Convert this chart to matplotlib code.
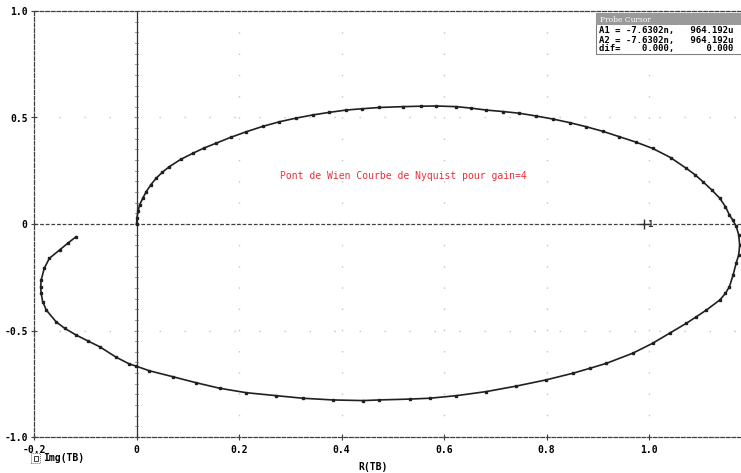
import matplotlib
matplotlib.use("Agg")
import matplotlib.pyplot as plt
from matplotlib.patches import Rectangle

re_tb = [0.000, 0.001, 0.003, 0.006, 0.012, 0.019, 0.028, 0.038, 0.050, 0.064,
         0.086, 0.110, 0.132, 0.155, 0.184, 0.214, 0.246, 0.279, 0.311, 0.344,
         0.376, 0.409, 0.440, 0.474, 0.520, 0.555, 0.585, 0.624, 0.653, 0.682,
         0.715, 0.747, 0.780, 0.812, 0.845, 0.877, 0.910, 0.942, 0.975, 1.007,
         1.042, 1.073, 1.090, 1.105, 1.122, 1.138, 1.149, 1.157, 1.163, 1.170,
         1.175, 1.177, 1.175, 1.170, 1.164, 1.157, 1.149, 1.138, 1.112, 1.092,
         1.073, 1.040, 1.007, 0.968, 0.917, 0.884, 0.851, 0.799, 0.741, 0.682,
         0.624, 0.572, 0.533, 0.474, 0.442, 0.383, 0.324, 0.273, 0.214, 0.162,
         0.116, 0.071, 0.025, -0.001, -0.014, -0.040, -0.072, -0.095, -0.118, -0.140,
         -0.157, -0.176, -0.183, -0.186, -0.187, -0.186, -0.180, -0.170, -0.150, -0.134,
         -0.118]
im_tb = [0.000, 0.030, 0.060, 0.089, 0.120, 0.152, 0.184, 0.214, 0.242, 0.269,
         0.303, 0.332, 0.357, 0.379, 0.407, 0.433, 0.458, 0.480, 0.497, 0.512,
         0.524, 0.535, 0.541, 0.547, 0.551, 0.553, 0.554, 0.551, 0.544, 0.535,
         0.528, 0.520, 0.507, 0.493, 0.476, 0.457, 0.435, 0.410, 0.384, 0.355,
         0.312, 0.261, 0.231, 0.199, 0.161, 0.121, 0.082, 0.042, 0.020, -0.010,
         -0.050, -0.100, -0.145, -0.185, -0.240, -0.294, -0.326, -0.357, -0.404, -0.436,
         -0.466, -0.513, -0.560, -0.607, -0.654, -0.678, -0.701, -0.732, -0.761, -0.787,
         -0.806, -0.818, -0.822, -0.826, -0.829, -0.826, -0.818, -0.806, -0.792, -0.771,
         -0.745, -0.717, -0.689, -0.667, -0.657, -0.625, -0.576, -0.549, -0.521, -0.490,
         -0.459, -0.404, -0.365, -0.325, -0.295, -0.263, -0.208, -0.161, -0.122, -0.090,
         -0.060]

x_ticks = [-0.2, 0.0, 0.2, 0.4, 0.6, 0.8, 1.0, 1.2]
x_tick_labels = ["-0.2", "0", "0.2", "0.4", "0.6", "0.8", "1.0", "1.2"]
y_ticks = [-1.0, -0.5, 0.0, 0.5, 1.0]
y_tick_labels = ["-1.0", "-0.5", "0", "0.5", "1.0"]
title_text = "Pont de Wien Courbe de Nyquist pour gain=4"
cursor_rows = ["A1 = -7.6302n,   964.192u",
               "A2 = -7.6302n,   964.192u",
               "dif=    0.000,      0.000"]

W, H = 741, 473
fig = plt.figure(figsize=(W / 100, H / 100), dpi=100)
fig.patch.set_facecolor("white")
left, right_px, top, bottom = 34, 751.5, 11, 437
ax = fig.add_axes([left / W, (H - bottom) / H, (right_px - left) / W, (bottom - top) / H])
ax.set_xlim(-0.2, 1.2)
ax.set_ylim(-1.0, 1.0)

mono = "DejaVu Sans Mono"
ax.set_xticks(x_ticks)
ax.set_xticklabels(x_tick_labels, family=mono, fontweight="bold", fontsize=7)
ax.set_yticks(y_ticks)
ax.set_yticklabels(y_tick_labels, family=mono, fontweight="bold", fontsize=7)
ax.tick_params(direction="inout", length=5, width=0.8, color="#404040", pad=2)
ax.tick_params(axis="x", pad=3)

for s in ["left", "top", "bottom"]:
    ax.spines[s].set_linestyle((0, (3, 1.5)))
    ax.spines[s].set_color("#404040")
    ax.spines[s].set_linewidth(0.9)
ax.spines["right"].set_visible(False)

# sparse dotted grid
ax.xaxis.grid(True, color="#c4c4c4", linestyle=(0, (1, 14.3)), linewidth=1.0)
ax.yaxis.grid(True, color="#c4c4c4", linestyle=(0, (1, 17)), linewidth=1.0)
ax.set_axisbelow(True)

# zero axes
ax.axvline(0, color="#303030", linewidth=0.9, zorder=2)
ax.axhline(0, color="#404040", linewidth=0.9, linestyle=(0, (3, 1.5)), zorder=2)
for yv in [i / 20 for i in range(-20, 21)]:
    ax.plot([-0.003, 0.003], [yv, yv], color="#606060", linewidth=0.5, zorder=2)

# curve
ax.plot(re_tb, im_tb, color="#202020", linewidth=1.2, marker="s", markersize=1.6,
        zorder=3)

# cursor mark
ax.plot([0.99], [0.0], marker="+", color="#303030", markersize=7, mew=1.0, zorder=4)
ax.text(0.997, -0.002, "1", family=mono, fontsize=6.5, fontweight="bold",
        ha="left", va="center", color="#303030")

# title text
ax.text(0.52, 0.225, title_text, family=mono, fontsize=7, color="#e8303a",
        ha="center", va="center")

# x label and legend
fig.text(373 / W, 1 - 467 / H, "R(TB)", family=mono, fontsize=7, fontweight="bold",
         ha="center", va="center")
fig.text(43 / W, 1 - 458 / H, "Img(TB)", family=mono, fontsize=7, fontweight="bold",
         ha="left", va="center")
fig.patches.append(Rectangle((31 / W, 1 - 463 / H), 9 / W, 10 / H, transform=fig.transFigure,
                             fill=False, edgecolor="#707070", linewidth=0.7,
                             linestyle=(0, (1, 1))))
fig.patches.append(Rectangle((33.5 / W, 1 - 460.5 / H), 4 / W, 5 / H, transform=fig.transFigure,
                             fill=False, edgecolor="#404040", linewidth=0.7))

# probe cursor box
bx0, by0, bx1, by1 = 596, 13, 745, 54
fig.patches.append(Rectangle((bx0 / W, 1 - by1 / H), (bx1 - bx0) / W, (by1 - by0) / H,
                             transform=fig.transFigure, facecolor="white",
                             edgecolor="#808080", linewidth=0.8, zorder=5))
fig.patches.append(Rectangle((bx0 / W, 1 - 25 / H), (bx1 - bx0) / W, 12 / H,
                             transform=fig.transFigure, facecolor="#9a9a9a",
                             edgecolor="none", zorder=6))
fig.text(600 / W, 1 - 19.5 / H, "Probe Cursor", family="DejaVu Serif", fontsize=5.5,
         color="white", ha="left", va="center", zorder=7)
for i, row in enumerate(cursor_rows):
    fig.text(599 / W, 1 - (31 + 9 * i) / H, row, family=mono, fontsize=6.5,
             fontweight="bold", ha="left", va="center", zorder=7)

fig.savefig("out.png", dpi=100)
